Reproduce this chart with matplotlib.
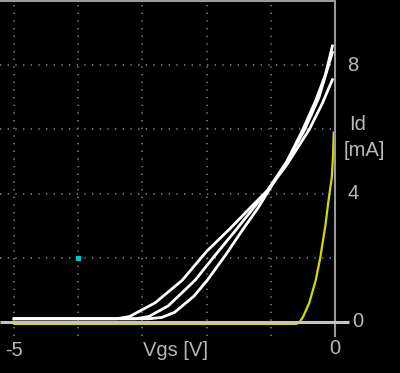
import numpy as np
import matplotlib.pyplot as plt

# white traces (three sweeps), Vgs [V] vs Id [mA]
vgs_a = [-5.0, -2.9, -2.7, -2.5, -2.2, -1.99, -1.7, -1.43, -1.2, -1.0, -0.75, -0.5, -0.3, -0.15, -0.04]
id_a = [0.1, 0.1, 0.14, 0.3, 0.8, 1.3, 2.1, 2.9, 3.55, 4.2, 5.0, 6.0, 6.9, 7.7, 8.6]

vgs_b = [-5.0, -3.1, -2.9, -2.6, -2.18, -1.9, -1.53, -1.25, -1.05, -0.75, -0.47, -0.25, -0.04]
id_b = [0.1, 0.1, 0.17, 0.5, 1.3, 2.0, 2.9, 3.6, 4.1, 5.0, 6.0, 7.0, 8.4]

vgs_c = [-5.0, -3.4, -3.2, -2.8, -2.38, -2.0, -1.64, -1.3, -1.05, -0.75, -0.4, -0.2, -0.04]
id_c = [0.1, 0.1, 0.17, 0.6, 1.3, 2.2, 2.9, 3.6, 4.1, 4.9, 6.0, 6.8, 7.55]

# yellow trace
vgs_y = [-5.0, -0.6, -0.55, -0.5, -0.4, -0.3, -0.23, -0.15, -0.1, -0.05, -0.03, -0.02]
id_y = [-0.06, -0.06, 0.0, 0.15, 0.6, 1.3, 2.0, 3.0, 3.8, 4.5, 5.2, 5.9]

marker_pt = (-4.0, 2.0)

x_grid = [-5, -4, -3, -2, -1]
y_grid = [2, 4, 6, 8]
y_labels = [(8, "8"), (4, "4")]

fig = plt.figure(figsize=(4, 3.73), dpi=100, facecolor='black')
ax = fig.add_axes([0, 37/373, 335/400, 335/373])
ax.set_facecolor('black')
ax.set_xlim(-5.22, 0)
ax.set_ylim(-0.4375, 10.0)

for xv in x_grid:
    ax.axvline(xv, color='#808080', lw=1.2, ls=(0, (0.8, 3.8)))
for yv in y_grid:
    ax.axhline(yv, color='#808080', lw=1.2, ls=(0, (0.8, 3.8)))

for s in ['left', 'bottom']:
    ax.spines[s].set_visible(False)
for s in ['top', 'right']:
    ax.spines[s].set_color('#9a9a9a')
    ax.spines[s].set_linewidth(1.5)
ax.set_xticks([])
ax.set_yticks([])

ax.plot(vgs_y, id_y, color='#d8d800', lw=1.6)
for v, i in [(vgs_a, id_a), (vgs_b, id_b), (vgs_c, id_c)]:
    ax.plot(v, i, color='white', lw=2.0)
ax.plot([-5.22, 0.22], [0, 0], color='#c4c4c4', lw=2.2, clip_on=False,
        solid_capstyle='butt', zorder=3)

ax.plot([marker_pt[0]], [marker_pt[1]], 's', color='#00c8c8', ms=3)

tc = '#b8b8b8'
fs = 14.5
kw = dict(color=tc, fontsize=fs, family='Liberation Sans', clip_on=False)
for yv, t in y_labels:
    ax.text(0.28, yv, t, ha='center', va='center', **kw)
ax.text(0.36, 0, "0", ha='center', va='center', **kw)
ax.text(0.0, -0.82, "0", ha='center', va='center', **kw)
ax.text(-5.0, -0.88, "-5", ha='center', va='center', **kw)
ax.text(-2.49, -0.88, "Vgs [V]", ha='center', va='center', **kw)
fig.text(349/400, 1 - 125/373, "Id", ha='left', va='center', color=tc, fontsize=fs, family='Liberation Sans')
fig.text(344/400, 1 - 150/373, "[mA]", ha='left', va='center', color=tc, fontsize=fs, family='Liberation Sans')

fig.savefig('out.png', dpi=100, facecolor='black')
